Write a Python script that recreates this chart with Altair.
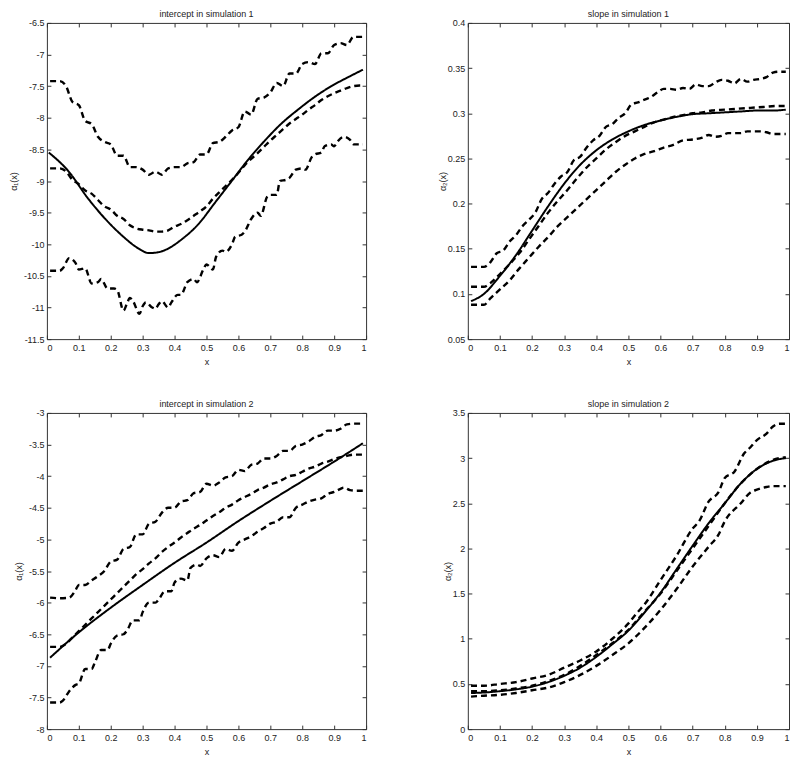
import altair as alt
import pandas as pd

FONT = "Liberation Sans, Arial, Helvetica, sans-serif"

# ---------- x tick labels (shared) ----------
x_ticks = [0, 0.1, 0.2, 0.3, 0.4, 0.5, 0.6, 0.7, 0.8, 0.9, 1]

# ---------- Panel 1: intercept in simulation 1 ----------
p1_true_x = [0.006, 0.065, 0.131, 0.183, 0.235, 0.288, 0.320, 0.345, 0.371, 0.423, 0.475, 0.527, 0.579, 0.631, 0.683, 0.735, 0.787, 0.839, 0.891, 0.943, 0.99]
p1_true_y = [-8.55, -8.83, -9.29, -9.60, -9.86, -10.07, -10.14, -10.13, -10.09, -9.92, -9.68, -9.34, -9.00, -8.66, -8.36, -8.09, -7.87, -7.67, -7.50, -7.36, -7.24]

p1_est_x = [0.01, 0.04, 0.06, 0.08, 0.10, 0.12, 0.14, 0.16, 0.18, 0.20, 0.22, 0.24, 0.26, 0.28, 0.30, 0.32, 0.34, 0.36, 0.38, 0.40, 0.42, 0.44, 0.46, 0.48, 0.50, 0.52, 0.54, 0.56, 0.58, 0.60, 0.62, 0.64, 0.66, 0.68, 0.70, 0.72, 0.74, 0.76, 0.78, 0.80, 0.82, 0.84, 0.86, 0.88, 0.90, 0.92, 0.94, 0.96, 0.98, 0.99]
p1_est_y = [-8.80, -8.80, -8.85, -8.98, -9.05, -9.15, -9.20, -9.30, -9.40, -9.45, -9.55, -9.60, -9.70, -9.75, -9.77, -9.78, -9.80, -9.80, -9.78, -9.72, -9.68, -9.62, -9.55, -9.48, -9.40, -9.28, -9.18, -9.08, -8.98, -8.87, -8.75, -8.65, -8.56, -8.46, -8.36, -8.27, -8.18, -8.09, -8.02, -7.95, -7.87, -7.80, -7.72, -7.66, -7.61, -7.57, -7.53, -7.50, -7.49, -7.49]

p1_up_x = [0.01, 0.04, 0.06, 0.08, 0.10, 0.12, 0.14, 0.16, 0.18, 0.20, 0.22, 0.24, 0.26, 0.28, 0.30, 0.32, 0.34, 0.36, 0.38, 0.40, 0.42, 0.44, 0.46, 0.48, 0.50, 0.52, 0.54, 0.56, 0.58, 0.60, 0.62, 0.64, 0.66, 0.68, 0.70, 0.72, 0.74, 0.76, 0.78, 0.80, 0.82, 0.84, 0.86, 0.88, 0.90, 0.92, 0.94, 0.96, 0.98, 0.99]
p1_up_y = [-7.42, -7.42, -7.50, -7.75, -7.80, -8.05, -8.10, -8.30, -8.38, -8.42, -8.60, -8.60, -8.78, -8.78, -8.82, -8.90, -8.85, -8.90, -8.80, -8.78, -8.78, -8.72, -8.70, -8.58, -8.58, -8.40, -8.38, -8.30, -8.20, -8.15, -7.90, -7.95, -7.70, -7.68, -7.60, -7.45, -7.50, -7.30, -7.30, -7.15, -7.12, -7.15, -6.98, -6.98, -6.85, -6.82, -6.85, -6.72, -6.72, -6.72]

p1_lo_x = [0.01, 0.04, 0.05, 0.07, 0.09, 0.10, 0.12, 0.14, 0.16, 0.17, 0.19, 0.21, 0.22, 0.24, 0.25, 0.26, 0.27, 0.29, 0.30, 0.31, 0.33, 0.34, 0.35, 0.36, 0.38, 0.39, 0.41, 0.42, 0.44, 0.46, 0.47, 0.49, 0.50, 0.52, 0.53, 0.55, 0.56, 0.58, 0.59, 0.61, 0.62, 0.64, 0.66, 0.67, 0.69, 0.70, 0.72, 0.73, 0.75, 0.76, 0.78, 0.80, 0.81, 0.83, 0.84, 0.86, 0.87, 0.89, 0.90, 0.91, 0.93, 0.95, 0.96, 0.98, 0.99]
p1_lo_y = [-10.42, -10.42, -10.38, -10.22, -10.30, -10.40, -10.38, -10.62, -10.60, -10.55, -10.70, -10.70, -10.72, -11.05, -10.95, -10.85, -10.90, -11.10, -10.98, -10.92, -11.00, -11.02, -10.95, -10.90, -11.00, -10.92, -10.80, -10.80, -10.60, -10.55, -10.60, -10.40, -10.32, -10.40, -10.20, -10.10, -10.12, -10.00, -9.88, -9.85, -9.80, -9.60, -9.50, -9.55, -9.25, -9.22, -9.22, -9.00, -8.98, -8.95, -8.82, -8.80, -8.82, -8.62, -8.58, -8.55, -8.45, -8.42, -8.45, -8.38, -8.30, -8.35, -8.42, -8.42, -8.42]

p1_y_ticks = [-11.5, -11, -10.5, -10, -9.5, -9, -8.5, -8, -7.5, -7, -6.5]

# ---------- Panel 2: slope in simulation 1 ----------
p2_true_x = [0.01, 0.05, 0.10, 0.15, 0.20, 0.25, 0.30, 0.35, 0.40, 0.45, 0.50, 0.55, 0.60, 0.65, 0.70, 0.75, 0.80, 0.85, 0.90, 0.95, 0.99]
p2_true_y = [0.092, 0.100, 0.120, 0.143, 0.170, 0.197, 0.222, 0.243, 0.259, 0.271, 0.280, 0.287, 0.292, 0.296, 0.299, 0.300, 0.301, 0.302, 0.303, 0.303, 0.304]

p2_est_x = [0.01, 0.05, 0.07, 0.10, 0.13, 0.16, 0.19, 0.22, 0.25, 0.28, 0.31, 0.34, 0.37, 0.40, 0.43, 0.46, 0.49, 0.52, 0.55, 0.58, 0.61, 0.64, 0.67, 0.70, 0.73, 0.76, 0.80, 0.84, 0.88, 0.92, 0.96, 0.99]
p2_est_y = [0.108, 0.108, 0.112, 0.122, 0.133, 0.145, 0.160, 0.175, 0.190, 0.203, 0.215, 0.228, 0.240, 0.250, 0.260, 0.268, 0.275, 0.280, 0.285, 0.290, 0.293, 0.296, 0.298, 0.300, 0.301, 0.303, 0.304, 0.305, 0.306, 0.307, 0.308, 0.308]

p2_up_x = [0.01, 0.05, 0.07, 0.09, 0.11, 0.13, 0.15, 0.17, 0.19, 0.21, 0.23, 0.25, 0.27, 0.29, 0.31, 0.33, 0.35, 0.37, 0.39, 0.41, 0.43, 0.45, 0.47, 0.49, 0.51, 0.53, 0.55, 0.57, 0.59, 0.61, 0.63, 0.65, 0.67, 0.69, 0.71, 0.73, 0.75, 0.77, 0.79, 0.81, 0.83, 0.85, 0.87, 0.89, 0.91, 0.93, 0.95, 0.97, 0.99]
p2_up_y = [0.130, 0.130, 0.135, 0.145, 0.148, 0.158, 0.165, 0.175, 0.182, 0.190, 0.205, 0.212, 0.222, 0.230, 0.235, 0.248, 0.252, 0.262, 0.270, 0.275, 0.285, 0.288, 0.295, 0.300, 0.310, 0.312, 0.315, 0.318, 0.323, 0.327, 0.327, 0.326, 0.328, 0.327, 0.332, 0.330, 0.330, 0.334, 0.337, 0.336, 0.333, 0.338, 0.335, 0.337, 0.338, 0.340, 0.345, 0.346, 0.346]

p2_lo_x = [0.01, 0.05, 0.07, 0.10, 0.13, 0.16, 0.19, 0.22, 0.25, 0.28, 0.31, 0.34, 0.37, 0.40, 0.43, 0.46, 0.49, 0.52, 0.55, 0.58, 0.61, 0.64, 0.67, 0.70, 0.73, 0.75, 0.77, 0.79, 0.81, 0.83, 0.85, 0.87, 0.89, 0.91, 0.93, 0.95, 0.97, 0.99]
p2_lo_y = [0.088, 0.088, 0.095, 0.105, 0.115, 0.128, 0.140, 0.152, 0.163, 0.175, 0.185, 0.195, 0.205, 0.215, 0.225, 0.235, 0.243, 0.250, 0.255, 0.258, 0.262, 0.265, 0.270, 0.271, 0.273, 0.276, 0.274, 0.275, 0.278, 0.278, 0.278, 0.280, 0.280, 0.280, 0.279, 0.277, 0.277, 0.277]

p2_y_ticks = [0.05, 0.1, 0.15, 0.2, 0.25, 0.3, 0.35, 0.4]

# ---------- Panel 3: intercept in simulation 2 ----------
p3_true_x = [0.01, 0.10, 0.20, 0.30, 0.40, 0.50, 0.60, 0.70, 0.80, 0.90, 0.99]
p3_true_y = [-6.87, -6.47, -6.08, -5.72, -5.37, -5.05, -4.71, -4.39, -4.08, -3.77, -3.48]

p3_est_x = [0.01, 0.04, 0.06, 0.08, 0.10, 0.12, 0.14, 0.16, 0.18, 0.20, 0.22, 0.24, 0.26, 0.28, 0.30, 0.32, 0.34, 0.36, 0.38, 0.40, 0.42, 0.44, 0.46, 0.48, 0.50, 0.52, 0.54, 0.56, 0.58, 0.60, 0.62, 0.64, 0.66, 0.68, 0.70, 0.72, 0.74, 0.76, 0.78, 0.80, 0.82, 0.84, 0.86, 0.88, 0.90, 0.92, 0.94, 0.96, 0.98, 0.99]
p3_est_y = [-6.70, -6.70, -6.65, -6.55, -6.45, -6.35, -6.25, -6.15, -6.05, -5.95, -5.85, -5.75, -5.65, -5.55, -5.47, -5.38, -5.30, -5.20, -5.12, -5.05, -4.97, -4.90, -4.83, -4.77, -4.70, -4.63, -4.57, -4.50, -4.45, -4.38, -4.33, -4.28, -4.22, -4.18, -4.13, -4.10, -4.05, -4.00, -3.98, -3.93, -3.88, -3.85, -3.80, -3.77, -3.73, -3.70, -3.68, -3.66, -3.66, -3.66]

p3_up_x = [0.01, 0.04, 0.07, 0.09, 0.10, 0.12, 0.14, 0.16, 0.18, 0.20, 0.22, 0.24, 0.26, 0.28, 0.30, 0.32, 0.34, 0.36, 0.38, 0.40, 0.42, 0.44, 0.46, 0.48, 0.50, 0.52, 0.54, 0.56, 0.58, 0.60, 0.62, 0.64, 0.66, 0.68, 0.70, 0.72, 0.74, 0.76, 0.78, 0.80, 0.82, 0.84, 0.86, 0.88, 0.90, 0.92, 0.94, 0.96, 0.98, 0.99]
p3_up_y = [-5.92, -5.93, -5.92, -5.80, -5.72, -5.72, -5.65, -5.58, -5.50, -5.35, -5.32, -5.15, -5.12, -4.92, -4.92, -4.75, -4.72, -4.58, -4.50, -4.50, -4.40, -4.38, -4.27, -4.25, -4.12, -4.15, -4.10, -4.02, -4.00, -3.90, -3.92, -3.82, -3.80, -3.72, -3.72, -3.68, -3.60, -3.60, -3.52, -3.50, -3.45, -3.38, -3.35, -3.28, -3.28, -3.25, -3.18, -3.17, -3.17, -3.17]

p3_lo_x = [0.01, 0.04, 0.05, 0.07, 0.09, 0.10, 0.12, 0.14, 0.15, 0.17, 0.19, 0.20, 0.22, 0.24, 0.25, 0.27, 0.29, 0.30, 0.32, 0.34, 0.35, 0.37, 0.39, 0.40, 0.42, 0.44, 0.45, 0.47, 0.48, 0.50, 0.52, 0.54, 0.56, 0.58, 0.60, 0.62, 0.64, 0.66, 0.68, 0.70, 0.72, 0.74, 0.76, 0.78, 0.80, 0.82, 0.84, 0.86, 0.88, 0.90, 0.92, 0.93, 0.95, 0.97, 0.99]
p3_lo_y = [-7.58, -7.58, -7.55, -7.40, -7.30, -7.28, -7.05, -7.05, -6.95, -6.75, -6.75, -6.65, -6.52, -6.50, -6.45, -6.28, -6.28, -6.15, -6.00, -6.00, -5.95, -5.82, -5.82, -5.68, -5.62, -5.65, -5.45, -5.40, -5.42, -5.30, -5.25, -5.28, -5.15, -5.18, -5.05, -5.00, -4.95, -4.88, -4.82, -4.75, -4.72, -4.65, -4.65, -4.50, -4.45, -4.40, -4.37, -4.35, -4.28, -4.25, -4.20, -4.18, -4.22, -4.23, -4.23]

p3_y_ticks = [-8, -7.5, -7, -6.5, -6, -5.5, -5, -4.5, -4, -3.5, -3]

# ---------- Panel 4: slope in simulation 2 ----------
p4_true_x = [0.01, 0.05, 0.10, 0.15, 0.20, 0.25, 0.30, 0.35, 0.40, 0.45, 0.50, 0.55, 0.60, 0.65, 0.70, 0.75, 0.80, 0.85, 0.90, 0.95, 0.99]
p4_true_y = [0.40, 0.405, 0.42, 0.44, 0.47, 0.52, 0.59, 0.68, 0.80, 0.94, 1.09, 1.29, 1.51, 1.77, 2.03, 2.28, 2.50, 2.72, 2.88, 2.97, 3.00]

p4_est_x = [0.01, 0.05, 0.10, 0.15, 0.20, 0.25, 0.30, 0.35, 0.40, 0.45, 0.50, 0.55, 0.60, 0.65, 0.70, 0.75, 0.80, 0.85, 0.90, 0.95, 0.99]
p4_est_y = [0.42, 0.42, 0.43, 0.45, 0.48, 0.53, 0.60, 0.70, 0.82, 0.95, 1.10, 1.30, 1.50, 1.75, 2.00, 2.25, 2.50, 2.72, 2.88, 2.98, 3.01]

p4_up_x = [0.01, 0.05, 0.10, 0.15, 0.20, 0.25, 0.30, 0.35, 0.40, 0.45, 0.50, 0.53, 0.55, 0.60, 0.65, 0.70, 0.72, 0.75, 0.78, 0.80, 0.83, 0.86, 0.88, 0.90, 0.93, 0.95, 0.97, 0.99]
p4_up_y = [0.48, 0.48, 0.50, 0.52, 0.56, 0.60, 0.68, 0.76, 0.86, 1.00, 1.17, 1.30, 1.38, 1.65, 1.92, 2.22, 2.30, 2.52, 2.62, 2.78, 2.85, 3.05, 3.12, 3.20, 3.27, 3.35, 3.38, 3.38]

p4_lo_x = [0.01, 0.05, 0.10, 0.15, 0.20, 0.25, 0.30, 0.35, 0.40, 0.45, 0.50, 0.55, 0.60, 0.65, 0.70, 0.75, 0.78, 0.80, 0.85, 0.88, 0.90, 0.93, 0.95, 0.99]
p4_lo_y = [0.36, 0.37, 0.38, 0.40, 0.43, 0.46, 0.52, 0.60, 0.70, 0.82, 0.95, 1.12, 1.32, 1.55, 1.80, 2.02, 2.15, 2.30, 2.50, 2.62, 2.65, 2.68, 2.69, 2.69]

p4_y_ticks = [0, 0.5, 1, 1.5, 2, 2.5, 3, 3.5]

LABEL_EXPR = "'' + datum.value"
TICK = 4


def make_panel(title, ytitle, ydom, yticks, series, width, ytitle_pad):
    rows = []
    for name, (xs, ys) in series.items():
        kind = "solid" if name == "true" else "dashed"
        for a, b in zip(xs, ys):
            rows.append({"x": a, "y": b, "series": name, "kind": kind})
    df = pd.DataFrame(rows)
    xsc = alt.Scale(domain=[0, 1], nice=False, zero=False)
    ysc = alt.Scale(domain=ydom, nice=False, zero=False)
    lines = alt.Chart(df).mark_line(
        color="black", interpolate="monotone"
    ).encode(
        x=alt.X("x:Q", scale=xsc, axis=alt.Axis(
            orient="bottom", values=x_ticks, offset=-TICK, tickSize=TICK,
            domain=False, labelPadding=4, title="x", titlePadding=5,
            minExtent=0, labelExpr=LABEL_EXPR)),
        y=alt.Y("y:Q", scale=ysc, axis=alt.Axis(
            orient="left", values=yticks, offset=-TICK, tickSize=TICK,
            domain=False, labelPadding=3, title=ytitle, titlePadding=ytitle_pad,
            minExtent=0, labelExpr=LABEL_EXPR)),
        strokeDash=alt.StrokeDash("kind:N", scale=alt.Scale(
            domain=["solid", "dashed"], range=[[1, 0], [6, 4]]), legend=None),
        strokeWidth=alt.StrokeWidth("kind:N", scale=alt.Scale(
            domain=["solid", "dashed"], range=[2, 2.4]), legend=None),
        detail="series:N",
    )
    frame = alt.Chart(df).mark_line(strokeOpacity=0).encode(
        x=alt.X("x:Q", scale=xsc, axis=alt.Axis(
            orient="top", values=x_ticks, offset=-TICK, tickSize=TICK,
            domain=False, labels=False, title=None, minExtent=0)),
        y=alt.Y("y:Q", scale=ysc, axis=alt.Axis(
            orient="right", values=yticks, offset=-TICK, tickSize=TICK,
            domain=False, labels=False, title=None, minExtent=0)),
        detail="series:N",
    )
    return alt.layer(lines, frame).resolve_axis(
        x="independent", y="independent"
    ).properties(
        width=width, height=317,
        title=alt.TitleParams(title, fontSize=9, fontWeight="normal",
                              offset=0, frame="group", anchor="middle"),
    )


p1 = make_panel("intercept in simulation 1", "α₁(x)", [-11.5, -6.5], p1_y_ticks, {
    "true": (p1_true_x, p1_true_y), "est": (p1_est_x, p1_est_y),
    "upper": (p1_up_x, p1_up_y), "lower": (p1_lo_x, p1_lo_y)}, 320, 5)
p2 = make_panel("slope in simulation 1", "α₂(x)", [0.05, 0.4], p2_y_ticks, {
    "true": (p2_true_x, p2_true_y), "est": (p2_est_x, p2_est_y),
    "upper": (p2_up_x, p2_up_y), "lower": (p2_lo_x, p2_lo_y)}, 322, 0)
p3 = make_panel("intercept in simulation 2", "α₁(x)", [-8, -3], p3_y_ticks, {
    "true": (p3_true_x, p3_true_y), "est": (p3_est_x, p3_est_y),
    "upper": (p3_up_x, p3_up_y), "lower": (p3_lo_x, p3_lo_y)}, 320, 5)
p4 = make_panel("slope in simulation 2", "α₂(x)", [0, 3.5], p4_y_ticks, {
    "true": (p4_true_x, p4_true_y), "est": (p4_est_x, p4_est_y),
    "upper": (p4_up_x, p4_up_y), "lower": (p4_lo_x, p4_lo_y)}, 322, 0)

chart = alt.ConcatChart(
    concat=[p1, p2, p3, p4], columns=2,
    spacing={"row": 74, "column": 102}, bounds="flush",
).properties(
    padding={"left": 0, "top": 0, "right": 0, "bottom": 0},
    background="white",
).configure_view(
    stroke="#333", strokeWidth=1
).configure_axis(
    grid=False, labelFont=FONT, labelFontSize=9, labelColor="#222",
    titleFont=FONT, titleFontSize=9, titleFontWeight="normal", titleColor="#222",
    tickColor="#333", tickWidth=1,
).configure_title(
    font=FONT, fontSize=9, fontWeight="normal", color="#222"
)

chart.save("out.html", embed_options={"renderer": "svg", "actions": False})
